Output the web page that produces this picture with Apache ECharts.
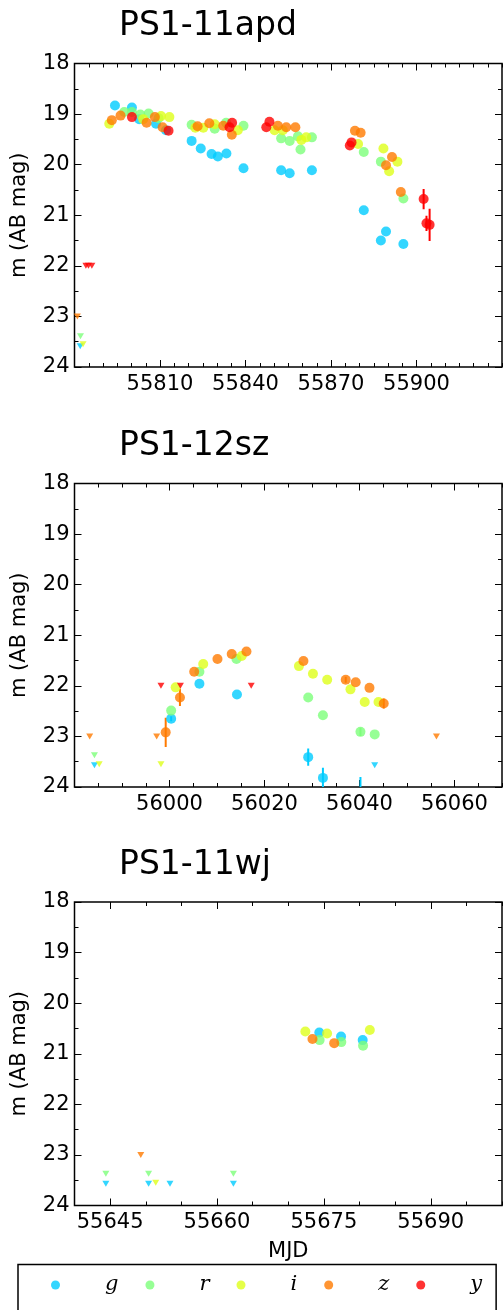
<!DOCTYPE html>
<html><head><meta charset="utf-8">
<script src="https://cdn.jsdelivr.net/npm/echarts@6/dist/echarts.min.js"></script>
<style>html,body{margin:0;padding:0;background:#fff}#c{width:503px;height:1310px}</style>
</head><body><div id="c"></div>
<script>
// ---------- DATA ----------
const bands = ['g', 'r', 'i', 'z', 'y'];
const titles = ['PS1-11apd', 'PS1-12sz', 'PS1-11wj'];
const xMins = [55780, 55980, 55640];
const xMaxs = [55930, 56070, 55700];
const xTickLabels = [
  [55810, 55840, 55870, 55900],
  [56000, 56020, 56040, 56060],
  [55645, 55660, 55675, 55690]
];
const yTickLabels = [18, 19, 20, 21, 22, 23, 24];

// PS1-11apd detections [MJD, mag, err]
const apd_g = [[55794.2,18.83,0],[55800.15,18.87,0],[55802.7,19.10,0],[55808.6,19.19,0],[55812.1,19.32,0],
  [55821.1,19.53,0],[55824.3,19.68,0],[55828.1,19.79,0],[55830.3,19.84,0],[55833.3,19.78,0],[55839.3,20.07,0],
  [55852.5,20.11,0],[55855.5,20.17,0],[55863.3,20.11,0],[55881.5,20.90,0],[55887.5,21.50,0],[55889.3,21.32,0],[55895.4,21.57,0]];
const apd_r = [[55797.45,18.96,0],[55800.15,18.96,0],[55803.1,19.01,0],[55806.0,18.99,0],[55809.5,19.08,0],
  [55821.1,19.21,0],[55829.2,19.29,0],[55833.2,19.17,0],[55839.3,19.23,0],[55852.5,19.48,0],[55855.5,19.53,0],
  [55858.4,19.44,0],[55859.3,19.70,0],[55863.3,19.46,0],[55881.5,19.75,0],[55887.5,19.94,0],[55895.4,20.67,0]];
const apd_i = [[55792.2,19.19,0],[55804.1,19.10,0],[55810.35,19.04,0],[55813.3,19.06,0],[55822.4,19.27,0],
  [55825.2,19.27,0],[55829.2,19.20,0],[55837.3,19.32,0],[55850.2,19.32,0],[55853.1,19.32,0],[55859.6,19.51,0],
  [55861.3,19.46,0],[55879.5,19.59,0],[55888.4,19.68,0],[55890.4,20.13,0],[55893.3,19.94,0]];
const apd_z = [[55793.1,19.12,0],[55796.15,19.03,0],[55805.3,19.17,0],[55808.2,19.06,0],[55810.9,19.26,0],
  [55823.2,19.24,0],[55827.3,19.18,0],[55832.2,19.23,0],[55835.2,19.41,0],[55851.35,19.23,0],[55854.3,19.26,0],
  [55857.5,19.26,0],[55878.4,19.33,0],[55880.4,19.37,0],[55889.3,20.01,0],[55891.4,19.85,0],[55894.5,20.54,0]];
const apd_y = [[55800.15,19.06,0],[55813.0,19.33,0],[55834.4,19.26,0],[55835.3,19.17,0],[55847.3,19.26,0],
  [55848.4,19.15,0],[55876.6,19.62,0],[55877.2,19.56,0],[55902.5,20.68,0.2],[55903.5,21.16,0.15],[55904.6,21.19,0.32]];
// PS1-11apd upper limits [MJD, mag]
const apd_g_lim = [[55782.0,23.59]];
const apd_r_lim = [[55782.1,23.39]];
const apd_i_lim = [[55783.0,23.55]];
const apd_z_lim = [[55781.0,23.0]];
const apd_y_lim = [[55784.0,22.0],[55784.9,22.0],[55786.1,22.0]];

// PS1-12sz
const sz_g = [[56000.35,22.65,0.05],[56006.3,21.96,0],[56014.2,22.17,0],[56029.2,23.41,0.17],[56032.3,23.82,0.2],[56040.2,24.3,0.5]];
const sz_r = [[56000.35,22.49,0],[56006.3,21.72,0],[56014.1,21.47,0],[56029.2,22.23,0],[56032.3,22.58,0],[56040.2,22.91,0.08],[56043.2,22.96,0]];
const sz_i = [[56001.3,22.03,0],[56007.1,21.57,0],[56015.2,21.41,0],[56027.25,21.61,0],[56030.2,21.76,0],[56033.2,21.88,0],
  [56038.1,22.07,0],[56041.1,22.32,0],[56044.0,22.32,0]];
const sz_z = [[55999.2,22.92,0.29],[56002.2,22.23,0.17],[56005.2,21.72,0],[56010.1,21.47,0],[56013.1,21.37,0],[56016.2,21.32,0],
  [56028.2,21.51,0],[56037.1,21.88,0.06],[56039.2,21.93,0],[56042.1,22.04,0],[56045.1,22.35,0.1]];
const sz_y = [];
const sz_g_lim = [[55984.2,23.57],[56043.2,23.57]];
const sz_r_lim = [[55984.2,23.37]];
const sz_i_lim = [[55985.2,23.55],[55998.2,23.55]];
const sz_z_lim = [[55983.2,23.0],[55997.3,23.0],[56056.2,23.0]];
const sz_y_lim = [[55998.2,22.0],[56002.3,22.0],[56017.2,22.0]];

// PS1-11wj
const wj_g = [[55674.36,20.58,0],[55677.41,20.66,0],[55680.45,20.73,0]];
const wj_r = [[55674.4,20.73,0],[55677.45,20.77,0],[55680.5,20.84,0]];
const wj_i = [[55672.4,20.56,0],[55675.45,20.60,0],[55681.45,20.53,0]];
const wj_z = [[55673.4,20.71,0],[55676.45,20.79,0]];
const wj_y = [];
const wj_g_lim = [[55644.4,23.57],[55650.4,23.57],[55653.4,23.57],[55662.3,23.57]];
const wj_r_lim = [[55644.4,23.37],[55650.4,23.37],[55662.3,23.37]];
const wj_i_lim = [[55651.4,23.55]];
const wj_z_lim = [[55649.3,23.0]];
const wj_y_lim = [];

// ---------- STYLE / LAYOUT ----------
const bandColors = {g:'#00ccff', r:'#7dff7a', i:'#dfff1a', z:'#ff7a00', y:'#ff0000'};
const det = [
  {g:apd_g, r:apd_r, i:apd_i, z:apd_z, y:apd_y},
  {g:sz_g, r:sz_r, i:sz_i, z:sz_z, y:sz_y},
  {g:wj_g, r:wj_r, i:wj_i, z:wj_z, y:wj_y}
];
const lim = [
  {g:apd_g_lim, r:apd_r_lim, i:apd_i_lim, z:apd_z_lim, y:apd_y_lim},
  {g:sz_g_lim, r:sz_r_lim, i:sz_i_lim, z:sz_z_lim, y:sz_y_lim},
  {g:wj_g_lim, r:wj_r_lim, i:wj_i_lim, z:wj_z_lim, y:wj_y_lim}
];
const gridTops = [63.5, 483.5, 902];
const gridH = 303.5;
const titleTops = [5, 425, 843.5];
const FONT = 'DejaVu Sans';
const FS = 21;

const grids = [], xAxes = [], yAxes = [], series = [], titleArr = [];
for (let p = 0; p < 3; p++) {
  grids.push({left: 74.5, top: gridTops[p], width: 427.5, height: gridH, show: true,
    borderColor: '#000', borderWidth: 1.5, backgroundColor: 'transparent', containLabel: false, outerBoundsMode: 'none'});
  titleArr.push({text: titles[p], left: 114, top: titleTops[p],
    textStyle: {fontFamily: FONT, fontSize: 33, fontWeight: 'normal', color: '#000'}});
  const base = {gridIndex: p, type: 'value', min: xMins[p], max: xMaxs[p],
    axisLine: {show: false}, splitLine: {show: false}};
  const majTick = {show: true, inside: true, length: 7, customValues: xTickLabels[p], lineStyle: {color: '#000', width: 1}};
  const minTick = {show: true, inside: true, length: 4, lineStyle: {color: '#000', width: 1}};
  xAxes.push(Object.assign({}, base, {position: 'bottom', axisTick: majTick,
    axisLabel: {show: true, customValues: xTickLabels[p], fontFamily: FONT, fontSize: FS, color: '#000', margin: 7,
      formatter: v => String(v)},
    name: p === 2 ? 'MJD' : '', nameLocation: 'middle', nameGap: 36, nameMoveOverlap: false,
    nameTextStyle: {fontFamily: FONT, fontSize: FS, color: '#000'}}));
  xAxes.push(Object.assign({}, base, {position: 'bottom', interval: 5, axisTick: minTick, axisLabel: {show: false}}));
  xAxes.push(Object.assign({}, base, {position: 'top', axisTick: majTick, axisLabel: {show: false}}));
  xAxes.push(Object.assign({}, base, {position: 'top', interval: 5, axisTick: minTick, axisLabel: {show: false}}));
  const ybase = {gridIndex: p, type: 'value', min: yTickLabels[0], max: yTickLabels[yTickLabels.length - 1], interval: 1, inverse: true,
    axisLine: {show: false}, splitLine: {show: false},
    axisTick: {show: true, inside: true, length: 7, lineStyle: {color: '#000', width: 1}},
    minorTick: {show: true, splitNumber: 2, length: 4, lineStyle: {color: '#000', width: 1}},
    minorSplitLine: {show: false}};
  yAxes.push(Object.assign({}, ybase, {position: 'left',
    axisLabel: {show: true, fontFamily: FONT, fontSize: FS, color: '#000', margin: 5},
    name: 'm (AB mag)', nameLocation: 'middle', nameGap: 44, nameRotate: 90, nameMoveOverlap: false,
    nameTextStyle: {fontFamily: FONT, fontSize: FS, color: '#000'}}));
  yAxes.push(Object.assign({}, ybase, {position: 'right', axisLabel: {show: false}}));

  bands.forEach(b => {
    const col = bandColors[b];
    const L = lim[p][b];
    if (L.length) series.push({type: 'scatter', name: b + ' limit', xAxisIndex: 4 * p, yAxisIndex: 2 * p,
      data: L, symbol: 'triangle', symbolRotate: 180, symbolSize: [7, 6], itemStyle: {color: col},
      silent: true, clip: true, animation: false});
    const D = det[p][b];
    const E = D.filter(d => d[2] > 0);
    if (E.length) series.push({type: 'custom', name: b + ' err', xAxisIndex: 4 * p, yAxisIndex: 2 * p,
      data: E, encode: {x: 0, y: 1}, clip: true, silent: true, animation: false,
      renderItem: function (params, api) {
        const x = api.value(0), y = api.value(1), e = api.value(2);
        const a = api.coord([x, y - e]), c = api.coord([x, y + e]);
        return {type: 'line', shape: {x1: a[0], y1: a[1], x2: c[0], y2: c[1]},
          style: {stroke: col, lineWidth: 2}};
      }});
    if (D.length) series.push({type: 'scatter', name: b, xAxisIndex: 4 * p, yAxisIndex: 2 * p,
      data: D.map(d => [d[0], d[1]]), symbol: 'circle', symbolSize: 10, itemStyle: {color: col},
      silent: true, clip: true, animation: false});
  });
}

const chart = echarts.init(document.getElementById('c'), null, {renderer: 'canvas'});
chart.setOption({
  animation: false,
  backgroundColor: '#fff',
  title: titleArr,
  grid: grids,
  xAxis: xAxes,
  yAxis: yAxes,
  legend: {
    data: bands, orient: 'horizontal', left: 18, top: 1264.5,
    padding: [10, 14, 40, 33], itemWidth: 9, itemHeight: 9, itemGap: 27, icon: 'circle',
    borderColor: '#000', borderWidth: 1.5, selectedMode: false,
    textStyle: {fontFamily: 'DejaVu Serif', fontStyle: 'italic', fontSize: 21, color: '#000', padding: [0, 0, 0, 40]}
  },
  series: series
});
</script></body></html>
